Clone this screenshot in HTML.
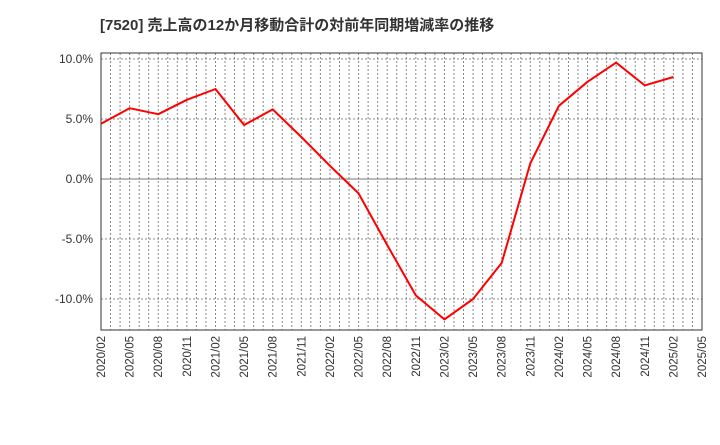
<!DOCTYPE html>
<html><head><meta charset="utf-8"><style>
body{margin:0;background:#fff;font-family:"Liberation Sans","Noto Sans CJK JP",sans-serif}
</style></head><body>
<svg width="720" height="440" xmlns="http://www.w3.org/2000/svg">
<text x="100" y="30" font-size="15" font-weight="bold" fill="#333" font-family="Liberation Sans, Noto Sans CJK JP, sans-serif">[7520]  売上高の12か月移動合計の対前年同期増減率の推移</text>
<g id="grid"></g><g id="axes"></g><g id="series"></g>
</svg>
<script>
const xLabels=["2020/02","2020/05","2020/08","2020/11","2021/02","2021/05","2021/08","2021/11","2022/02","2022/05","2022/08","2022/11","2023/02","2023/05","2023/08","2023/11","2024/02","2024/05","2024/08","2024/11","2025/02","2025/05"];
const values=[4.6,5.9,5.4,6.6,7.5,4.5,5.8,3.5,1.1,-1.2,-5.5,-9.7,-11.7,-10.0,-7.0,1.3,6.1,8.1,9.7,7.8,8.5];
const yTicks=[10,5,0,-5,-10];
const yTickLabels=["10.0%","5.0%","0.0%","-5.0%","-10.0%"];
const L=101,R=702,T=53,B=330;
const x=i=>L+(R-L)*i/(xLabels.length-1);
const y=v=>179-12*v;
const NS="http://www.w3.org/2000/svg";
function mk(p,t,a){const e=document.createElementNS(NS,t);for(const k in a)e.setAttribute(k,a[k]);p.appendChild(e);return e;}
const g=document.getElementById('grid'),ax=document.getElementById('axes'),s=document.getElementById('series');
for(let m=1;m<(xLabels.length-1)*3;m++){const xx=L+(R-L)*m/((xLabels.length-1)*3);
const l=mk(g,'line',{x1:xx,x2:xx,y1:T,y2:B,stroke:'#888','stroke-dasharray':'2,2','stroke-width':1});
}
yTicks.forEach((v,i)=>{const yy=y(v);
const l=mk(g,'line',{x1:L,x2:R,y1:yy,y2:yy,stroke:v===0?'#777':'#888','stroke-dasharray':v===0?'':'2,2','stroke-width':1});

const t=mk(ax,'text',{x:L-8,y:yy+4,'text-anchor':'end','font-size':12,fill:'#333'});t.textContent=yTickLabels[i];
});
xLabels.forEach((lb,i)=>{const xx=x(i);
const t=mk(ax,'text',{x:0,y:0,transform:`translate(${xx+4},${B+6}) rotate(-90)`,'text-anchor':'end','font-size':11.5,fill:'#333'});t.textContent=lb;
});
const fr=mk(ax,'rect',{x:L,y:T,width:R-L,height:B-T,fill:'none',stroke:'#333','stroke-width':1});

const pl=mk(s,'polyline',{points:values.map((v,i)=>x(i)+','+y(v)).join(' '),fill:'none',stroke:'#f00','stroke-width':2,'stroke-linejoin':'round'});

</script>
</body></html>
